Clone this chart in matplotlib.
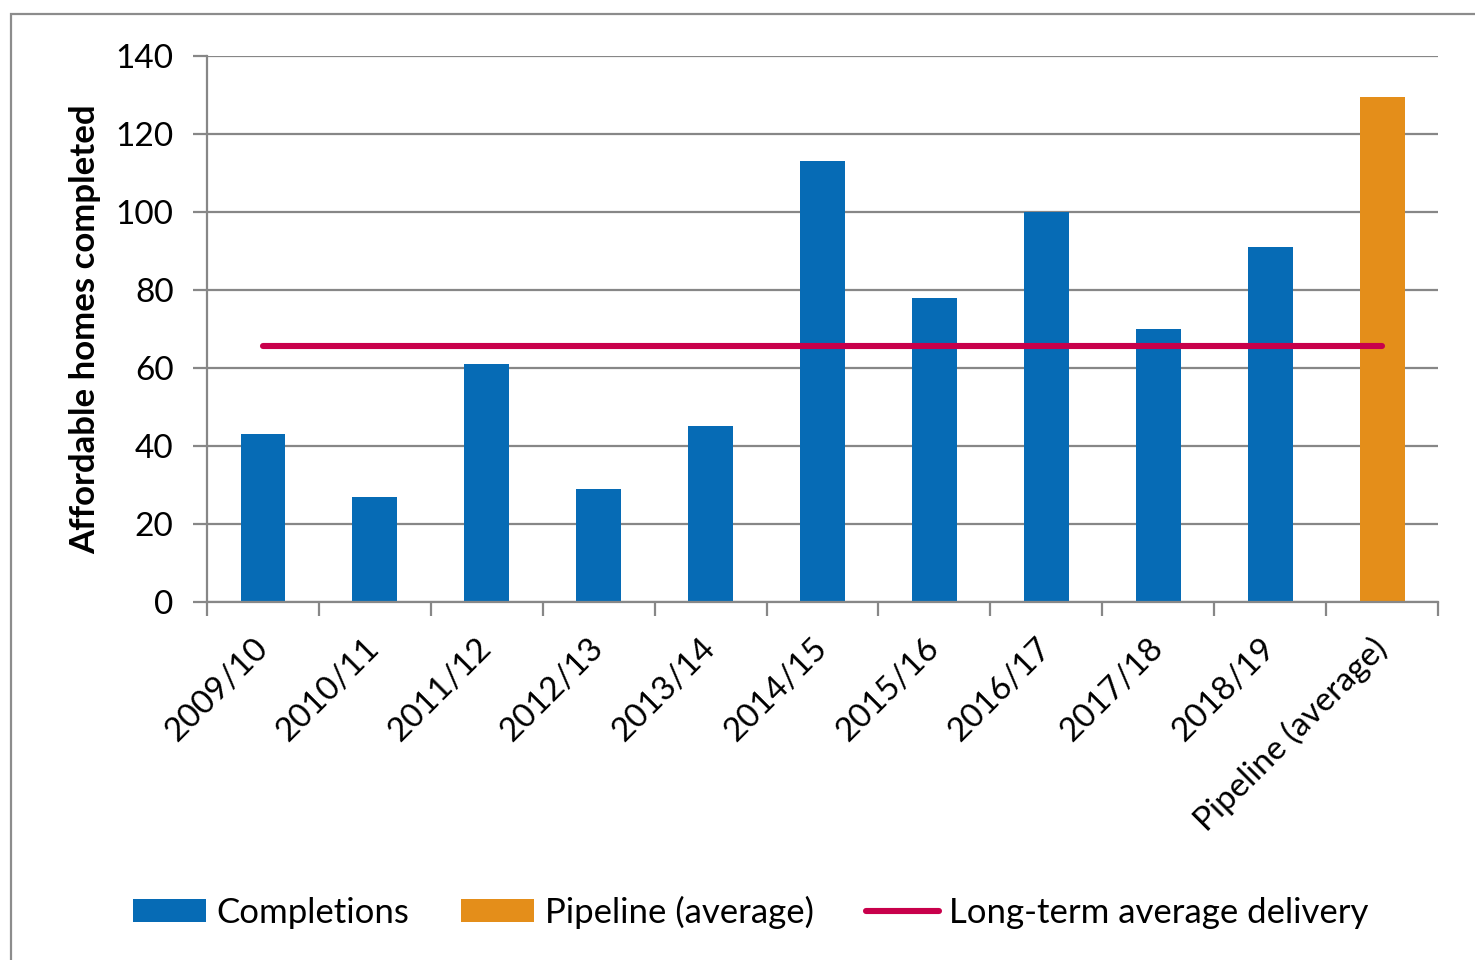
import matplotlib.pyplot as plt
from matplotlib.patches import Rectangle
import numpy as np

plt.rcParams["font.family"] = ["Lato", "DejaVu Sans"]

# Data
years = ["2009/10", "2010/11", "2011/12", "2012/13", "2013/14", "2014/15",
         "2015/16", "2016/17", "2017/18", "2018/19", "Pipeline (average)"]
completions = [43, 27, 61, 29, 45, 113, 78, 100, 70, 91]
pipeline_avg = 129.5
long_term_avg = 65.6

blue = "#066BB5"
orange = "#E48E1A"
crimson = "#C8004B"
grey = "#878787"

fig = plt.figure(figsize=(14.75, 9.6), dpi=100)
ax = fig.add_axes([0.1403, 0.373, 0.8347, 0.5687])

x = np.arange(len(years))
b1 = ax.bar(x[:-1], completions, width=0.4, color=blue, label="Completions", zorder=2)
b2 = ax.bar(x[-1], pipeline_avg, width=0.4, color=orange, label="Pipeline (average)", zorder=2)
l1, = ax.plot(x, [long_term_avg] * len(years), color=crimson, lw=4.4,
              solid_capstyle="round", label="Long-term average delivery", zorder=3)

ax.set_xlim(-0.5, len(years) - 0.5)
ax.set_ylim(0, 140)
ax.set_yticks(range(0, 141, 20))
ax.yaxis.grid(True, color=grey, lw=1.6, zorder=0)
ax.set_axisbelow(True)

# category labels at bar centres, tick marks at category boundaries
ax.set_xticks(x)
ax.set_xticklabels(years, rotation=45, ha="right", va="center",
                   rotation_mode="anchor", fontsize=24)
ax.set_xticks(np.arange(-0.5, len(years), 1.0), minor=True)
ax.tick_params(axis="x", which="major", length=0, pad=30)
ax.tick_params(axis="x", which="minor", length=10, width=1.6, color=grey)
ax.tick_params(axis="y", length=10, width=1.6, color=grey, labelsize=24, pad=14)

for side in ["top", "right"]:
    ax.spines[side].set_visible(False)
for side in ["left", "bottom"]:
    ax.spines[side].set_color(grey)
    ax.spines[side].set_linewidth(1.6)

ax.set_ylabel("Affordable homes completed", fontsize=25, fontweight="bold", labelpad=10)

fig.legend(handles=[b1, b2, l1], loc="lower center", bbox_to_anchor=(0.509, 0.0),
           ncol=3, frameon=False, fontsize=25, handlelength=2.1, handleheight=0.6,
           handletextpad=0.3, columnspacing=1.5)

# outer chart-area border (cropped at right and bottom)
fig.add_artist(Rectangle((0.0072, -0.05), 1.1, 0.985 + 0.05, transform=fig.transFigure,
                         fill=False, ec="#8c8c8c", lw=1.6))

fig.savefig("out.png", dpi=100)
